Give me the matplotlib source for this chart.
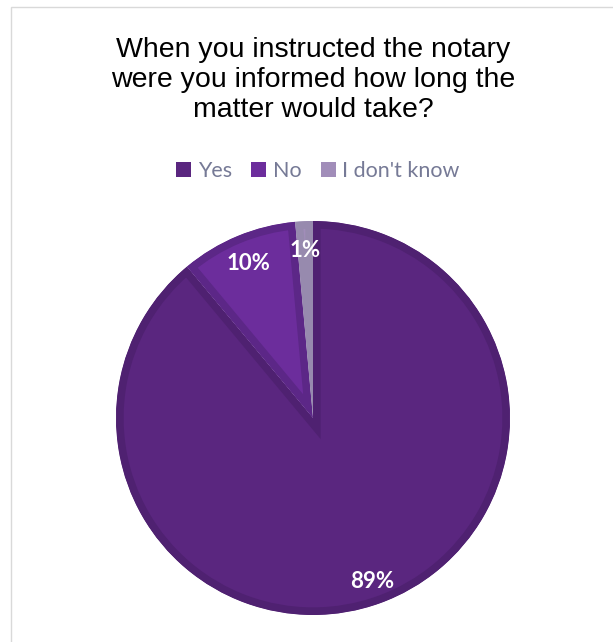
import matplotlib
matplotlib.use("Agg")
import matplotlib.pyplot as plt
from matplotlib.patches import Rectangle, Patch

title = "When you instructed the notary\nwere you informed how long the\nmatter would take?"
categories = ["Yes", "No", "I don't know"]
values = [88.95, 9.6, 1.45]
fill_colors = ["#5A267F", "#6C2D9C", "#A18DB9"]
band_colors = ["#4F2171", "#5C2787", "#978AAE"]

W, H = 613, 642
fig = plt.figure(figsize=(W / 100, H / 100), dpi=100)
fig.patch.set_facecolor("white")

# frame
fig.add_artist(Rectangle((10.5 / W, -0.1), 1.2, 1 - 6.5 / H + 0.1, transform=fig.transFigure,
                         fill=False, edgecolor="#D9D9D9", linewidth=1.0))

cx, cy, r = 313, 418, 197
ax = fig.add_axes([(cx - r) / W, (H - cy - r) / H, 2 * r / W, 2 * r / H])

wedges, texts, autotexts = ax.pie(values, colors=fill_colors, startangle=90, counterclock=False,
                                  radius=1, autopct="%.0f%%", pctdistance=0.85,
                                  wedgeprops=dict(linewidth=0),
                                  textprops=dict(color="white", fontsize=16, fontweight="bold",
                                                 family=["Lato", "DejaVu Sans"]))
ax.set_xlim(-1, 1)
ax.set_ylim(-1, 1)
ax.set_aspect("auto")
ax.axis("off")
# bevel band inside each wedge
for w, bc in zip(wedges, band_colors):
    w.set_edgecolor(bc)
    w.set_linewidth(11)
    w.set_clip_on(True)
    w.set_clip_path(w)
    w.set_zorder(1)
for t in autotexts:
    t.set_zorder(5)
# the large slice's label sits a little further out
x0, y0 = autotexts[0].get_position()
autotexts[0].set_position((x0 * 0.88 / 0.85, y0 * 0.88 / 0.85))

fig.text(313 / W, 1 - 80 / H, title, ha="center", va="center", fontsize=20.5,
         family="Liberation Sans", color="#000000", linespacing=1.2)

handles = [Patch(facecolor=c, edgecolor="none") for c in fill_colors]
leg = fig.legend(handles, categories, loc="center", bbox_to_anchor=(318 / W, 1 - 171 / H), ncol=3,
                 frameon=False, handlelength=0.7, handleheight=0.7, handletextpad=0.3,
                 columnspacing=0.9, prop=dict(family="Lato", size=15.5))
for t in leg.get_texts():
    t.set_color("#767A96")

fig.savefig("out.png", dpi=100, facecolor="white")
